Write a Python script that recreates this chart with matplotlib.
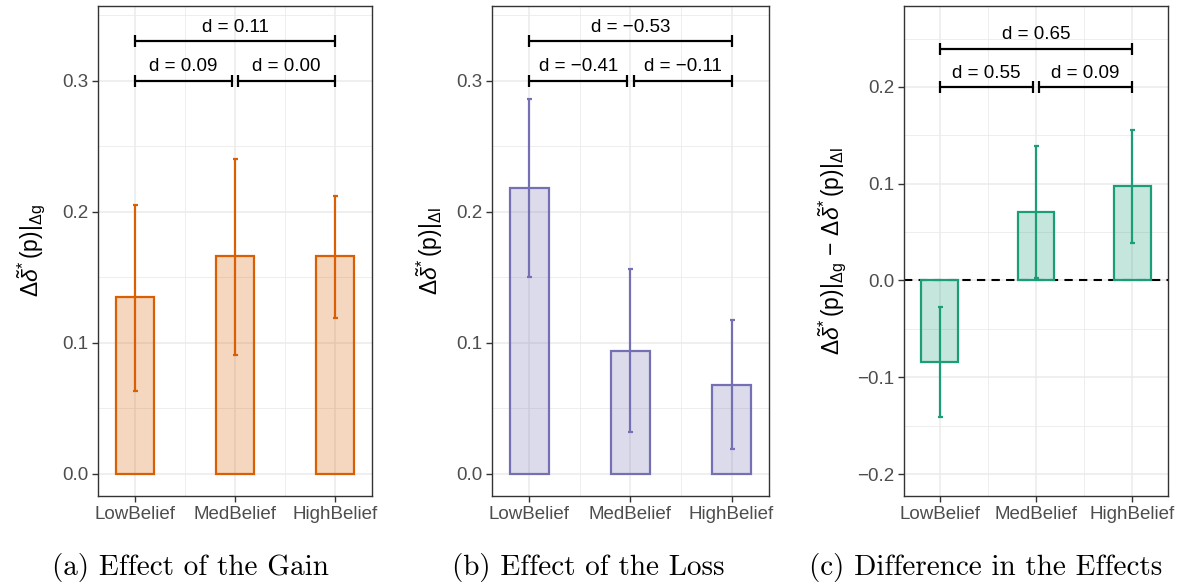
import numpy as np
import matplotlib
matplotlib.use("Agg")
from matplotlib import pyplot as plt
from matplotlib.ticker import MultipleLocator

plt.rcParams['font.family'] = ['Liberation Sans', 'DejaVu Sans']
plt.rcParams['mathtext.fontset'] = 'custom'
plt.rcParams['mathtext.rm'] = 'Liberation Sans'
plt.rcParams['mathtext.it'] = 'Liberation Sans:italic'
plt.rcParams['mathtext.sf'] = 'Liberation Sans'
plt.rcParams['axes.unicode_minus'] = True

categories = ["LowBelief", "MedBelief", "HighBelief"]

# (a) effect of the gain
gain_mean = [0.135, 0.166, 0.166]
gain_lo = [0.063, 0.091, 0.119]
gain_hi = [0.205, 0.240, 0.212]
gain_d = ["d = 0.09", "d = 0.00", "d = 0.11"]

# (b) effect of the loss
loss_mean = [0.218, 0.094, 0.068]
loss_lo = [0.150, 0.032, 0.019]
loss_hi = [0.286, 0.156, 0.117]
loss_d = ["d = \u22120.41", "d = \u22120.11", "d = \u22120.53"]

# (c) difference
diff_mean = [-0.084, 0.071, 0.098]
diff_lo = [-0.141, 0.003, 0.039]
diff_hi = [-0.027, 0.139, 0.155]
diff_d = ["d = 0.55", "d = 0.09", "d = 0.65"]

colors = ["#D95F02", "#7570B3", "#1B9E77"]
lab_g = r'$\Delta\tilde{\delta}^{*}\,\mathrm{(p)}|_{\Delta\mathrm{g}}$'
lab_l = r'$\Delta\tilde{\delta}^{*}\,\mathrm{(p)}|_{\Delta\mathrm{l}}$'
lab_c = (r'$\Delta\tilde{\delta}^{*}\,\mathrm{(p)}|_{\Delta\mathrm{g}}\,-\,'
         r'\Delta\tilde{\delta}^{*}\,\mathrm{(p)}|_{\Delta\mathrm{l}}$')

panels = [
    dict(mean=gain_mean, lo=gain_lo, hi=gain_hi, d=gain_d, color=colors[0],
         ylabel=lab_g, ylim=(-0.017, 0.357), yb=(0.30, 0.33), tick=0.0046,
         rect=[0.0828, 0.1536, 0.2314, 0.836], zero=False, pad=10,
         caption="(a) Effect of the Gain", cx=190),
    dict(mean=loss_mean, lo=loss_lo, hi=loss_hi, d=loss_d, color=colors[1],
         ylabel=lab_l, ylim=(-0.017, 0.357), yb=(0.30, 0.33), tick=0.0046,
         rect=[0.4155, 0.1536, 0.234, 0.836], zero=False, pad=8,
         caption="(b) Effect of the Loss", cx=588),
    dict(mean=diff_mean, lo=diff_lo, hi=diff_hi, d=diff_d, color=colors[2],
         ylabel=lab_c, ylim=(-0.2227, 0.2835), yb=(0.20, 0.2395), tick=0.0062,
         rect=[0.7635, 0.1536, 0.223, 0.836], zero=True, pad=6,
         caption="(c) Difference in the Effects", cx=986),
]

fig = plt.figure(figsize=(11.84, 5.86), dpi=100)
x = np.arange(1, 4)

for p in panels:
    ax = fig.add_axes(p["rect"])
    ax.set_xlim(0.63, 3.37)
    ax.set_ylim(*p["ylim"])
    ax.yaxis.set_major_locator(MultipleLocator(0.1))
    ax.yaxis.set_minor_locator(MultipleLocator(0.05))
    ax.set_xticks(x)
    ax.set_xticks([1.5, 2.5], minor=True)
    ax.set_xticklabels(categories)
    ax.grid(True, which='major', color='#EBEBEB', lw=1.1, zorder=0)
    ax.grid(True, which='minor', color='#EBEBEB', lw=0.6, zorder=0)
    ax.set_axisbelow(True)
    ax.tick_params(which='major', length=4, width=1, color='#333333',
                   labelcolor='#4D4D4D', labelsize=13.5, pad=3)
    ax.tick_params(which='minor', length=0)
    for s in ax.spines.values():
        s.set_color('#333333')
        s.set_linewidth(1.0)
    ax.yaxis.set_major_formatter(matplotlib.ticker.FuncFormatter(
        lambda v, _: f"{v:.1f}".replace("-", "\u2212")))

    if p["zero"]:
        ax.axhline(0, color='black', lw=1.5, ls=(0, (4, 3)), zorder=1)

    ax.bar(x, p["mean"], width=0.38, color=p["color"], alpha=0.25, zorder=2)
    ax.bar(x, p["mean"], width=0.38, facecolor='none', edgecolor=p["color"],
           lw=1.6, zorder=3)
    m = np.array(p["mean"])
    err = [m - np.array(p["lo"]), np.array(p["hi"]) - m]
    ax.errorbar(x, m, yerr=err, fmt='none', ecolor=p["color"], elinewidth=1.6,
                capsize=1.8, capthick=1.6, zorder=4)

    # significance brackets
    y1, y2 = p["yb"]
    t = p["tick"]
    spans = [(1, 1.97, y1), (2.03, 3, y1), (1, 3, y2)]
    for (a, b, yy), lab in zip(spans, p["d"]):
        ax.plot([a, b], [yy, yy], color='black', lw=1.6, zorder=5,
                solid_capstyle='butt')
        for xe in (a, b):
            ax.plot([xe, xe], [yy - t, yy + t], color='black', lw=1.6,
                    zorder=5, solid_capstyle='butt')
        ax.text((a + b) / 2, yy + t * 0.9, lab, ha='center', va='bottom',
                fontsize=13.5, color='black')

    ax.set_ylabel(p["ylabel"], fontsize=16.5, color='black', labelpad=p["pad"])
    fig.text(p["cx"] / 1184, 1 - 568 / 586, p["caption"], ha='center',
             va='center', fontsize=21, family='cmr10')

fig.savefig("out.png", dpi=100)
